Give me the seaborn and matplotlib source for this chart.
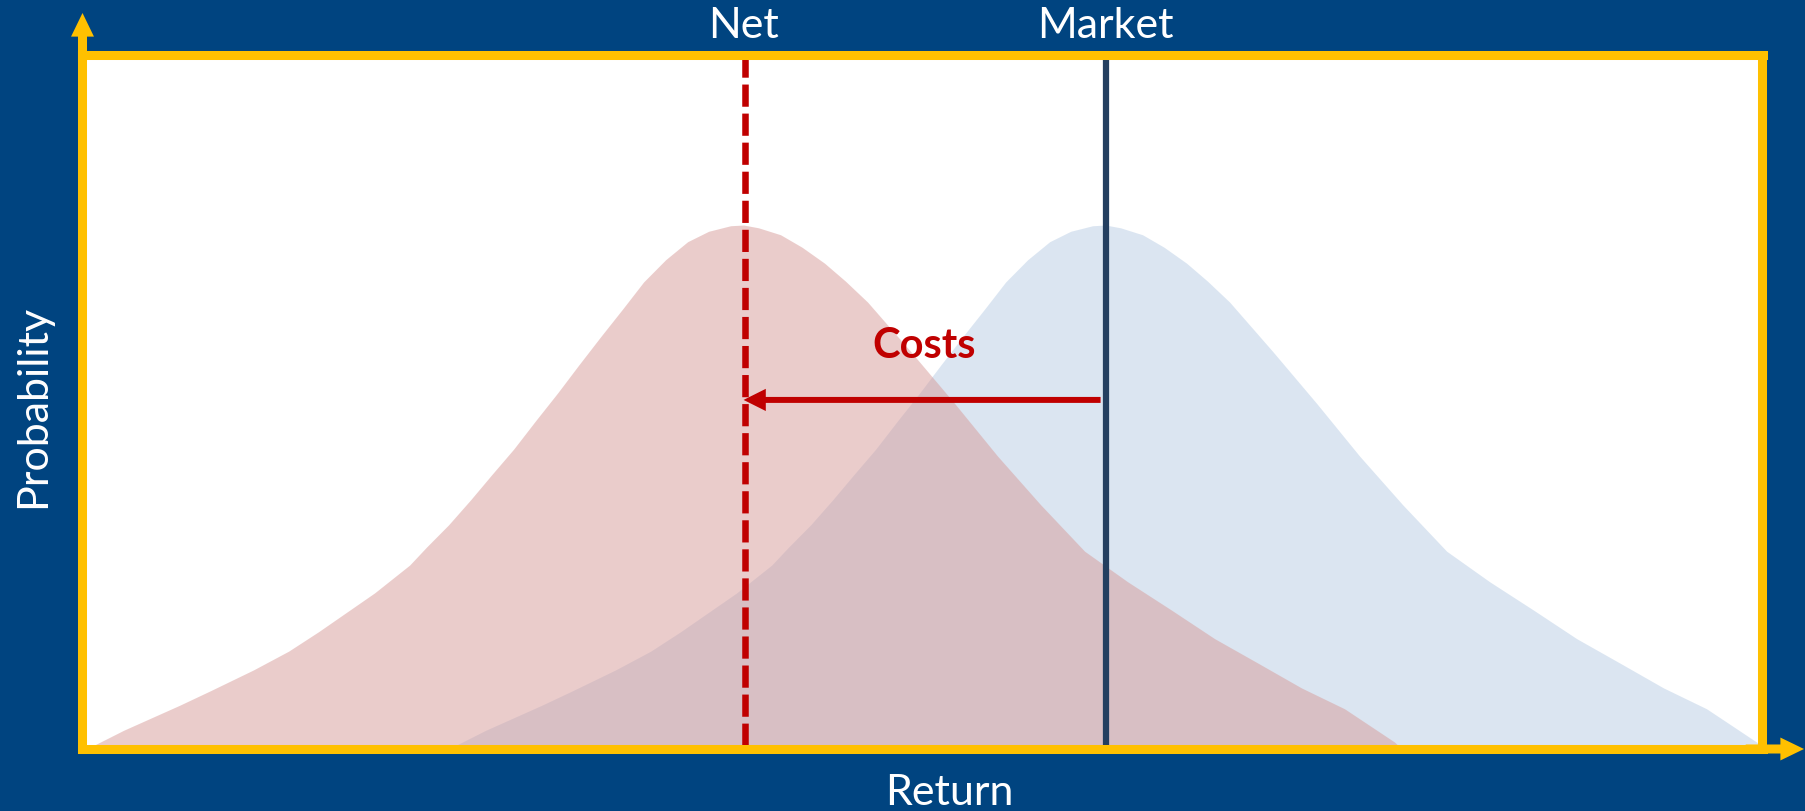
import numpy as np
import seaborn as sns
import matplotlib
matplotlib.use("Agg")
import matplotlib.pyplot as plt

# Bell shape: distance from the mean and height,
# left flank and right flank (the shape is slightly skewed)
left_offset = [0, 0.077, 0.208, 0.333, 0.464, 0.595, 0.720, 0.851, 0.982, 1.107, 1.238, 1.369,
               1.500, 1.625, 1.756, 1.887, 1.988, 2.196, 2.530, 2.708, 2.917, 3.173, 3.357, 3.690, 3.911]
left_height = [0.755, 0.754, 0.746, 0.731, 0.705, 0.673, 0.634, 0.594, 0.553, 0.513, 0.473, 0.432,
               0.395, 0.359, 0.323, 0.291, 0.265, 0.225, 0.169, 0.141, 0.114, 0.084, 0.063, 0.027, 0.0]
right_offset = [0, 0.089, 0.220, 0.348, 0.482, 0.607, 0.738, 0.994, 1.256, 1.512, 1.768, 2.030,
                2.286, 2.548, 2.804, 3.060, 3.321, 3.577, 3.875, 3.917]
right_height = [0.755, 0.751, 0.741, 0.723, 0.700, 0.674, 0.644, 0.573, 0.498, 0.422, 0.352, 0.285,
                0.241, 0.200, 0.159, 0.124, 0.088, 0.058, 0.010, 0.0]

# Means of the two return distributions
market_mean = 6.09
net_mean = 3.935
costs_arrow_level = 0.503

labels = {"net": "Net", "market": "Market", "costs": "Costs", "x": "Return", "y": "Probability"}

BG = "#004480"
YELLOW = "#FFC000"
RED = "#C00000"
NAVY = "#243F60"


def distribution(mean):
    """Return x, y of the bell shape centred on mean."""
    lo = np.array(left_offset)
    ro = np.array(right_offset)
    x = np.concatenate([mean - lo[::-1], mean + ro[1:]])
    y = np.concatenate([np.array(left_height)[::-1], np.array(right_height)[1:]])
    return x, y


def draw_chart(output_file="out.png"):
    sns.set_theme(style="white")
    plt.rcParams["font.family"] = ["Lato", "DejaVu Sans"]

    W, H = 1806, 811
    fig = plt.figure(figsize=(W / 100, H / 100), dpi=100, facecolor=BG)
    # axes box = the yellow frame
    left, right, top, bottom = 82.5, 1762.5, 55, 749
    ax = fig.add_axes([left / W, (H - bottom) / H, (right - left) / W, (bottom - top) / H])
    ax.set_facecolor("white")
    ax.set_xlim(0, 10)
    ax.set_ylim(0, 1)
    ax.set_xticks([])
    ax.set_yticks([])

    # distributions
    mx, my = distribution(market_mean)
    ax.fill_between(mx, 0, my, color="#4F81BD", alpha=0.2, lw=0, zorder=1)
    nx, ny = distribution(net_mean)
    ax.fill_between(nx, 0, ny, color="#D79B99", alpha=0.5, lw=0, zorder=2)

    # mean lines
    ax.plot([market_mean, market_mean], [1, 0], color=NAVY, lw=4.5, zorder=3, solid_capstyle="butt")
    ax.plot([net_mean + 0.008, net_mean + 0.008], [1, 0], color=RED, lw=4.7, dashes=(3.4, 1.05),
            zorder=4, dash_capstyle="butt")

    # costs arrow
    ax.annotate("", xy=(net_mean, costs_arrow_level), xytext=(market_mean - 0.03, costs_arrow_level),
                arrowprops=dict(arrowstyle="simple,tail_width=4.3,head_width=16,head_length=16",
                                mutation_scale=1, color=RED, lw=0, shrinkA=0, shrinkB=0),
                zorder=5)
    ax.text((market_mean + net_mean) / 2, 0.5634, labels["costs"], color=RED, fontsize=30,
            fontweight="bold", ha="center", va="baseline", zorder=6)

    # frame
    for s in ax.spines.values():
        s.set_color(YELLOW)
        s.set_linewidth(6.5)
        s.set_zorder(7)

    # axis arrows
    arrow = dict(arrowstyle="simple,tail_width=6.5,head_width=16.5,head_length=17",
                 mutation_scale=1, color=YELLOW, lw=0, shrinkA=0, shrinkB=0)
    ax.annotate("", xy=(0, 1 + 42 / 694), xytext=(0, 0.99), xycoords="axes fraction",
                textcoords="axes fraction", arrowprops=arrow, annotation_clip=False)
    ax.annotate("", xy=(1 + 41.5 / 1680, 0), xytext=(0.99, 0), xycoords="axes fraction",
                textcoords="axes fraction", arrowprops=arrow, annotation_clip=False)

    # labels
    ax.text(net_mean, 1.024, labels["net"], color="white", fontsize=31, ha="center", va="baseline")
    ax.text(market_mean, 1.024, labels["market"], color="white", fontsize=31, ha="center", va="baseline")
    ax.text(5.16, -0.0807, labels["x"], color="white", fontsize=31, ha="center", va="baseline")
    ax.text(-0.295, 0.4935, labels["y"], color="white", fontsize=31, ha="center", va="center",
            rotation=90)

    fig.savefig(output_file, dpi=100, facecolor=BG)
    plt.close(fig)


if __name__ == "__main__":
    draw_chart()
